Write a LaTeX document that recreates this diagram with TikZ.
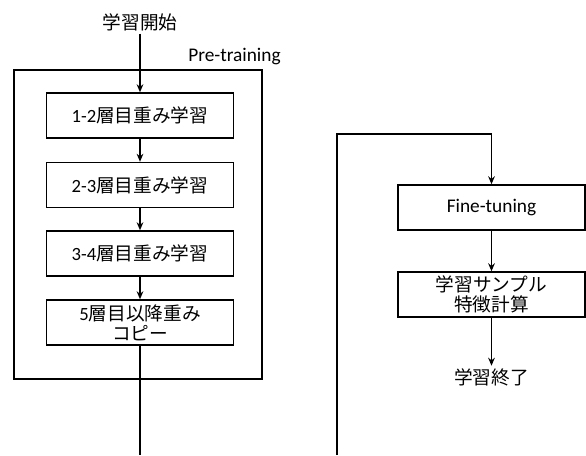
\documentclass[tikz,border=0pt]{standalone}
\usepackage{fontspec}
\setmainfont{Noto Sans CJK JP}
\newfontfamily\latf{Carlito}
\usetikzlibrary{arrows.meta}
\begin{document}
\begin{tikzpicture}[x=0.75pt,y=-0.75pt,
  every node/.style={font=\fontsize{14pt}{16pt}\selectfont},
  procbox/.style={draw=black,line width=1.1pt,minimum width=187*0.75pt,minimum height=45*0.75pt,inner sep=0pt,align=center},
  conn/.style={draw=black,line width=1.1pt},
  arr/.style={conn,-{Stealth[length=6pt,width=5pt]}}]
\useasboundingbox (0,0) rectangle (586,455);
\node[draw=black,line width=1.1pt,minimum width=248*0.75pt,minimum height=309*0.75pt,inner sep=0pt] (outer) at (138,224.5) {};
\node[anchor=west,inner sep=0pt] (pt) at (188,57) {\latf\fontsize{14.5pt}{16pt}\selectfont Pre-training};
\node[inner sep=2pt] (start) at (140,22) {学習開始};
\node[procbox] (b1) at (140,115.5) {{\latf 1-2}層目重み学習};
\node[procbox] (b2) at (140,185) {{\latf 2-3}層目重み学習};
\node[procbox] (b3) at (140,253.5) {{\latf 3-4}層目重み学習};
\node[procbox,font=\fontsize{14pt}{15pt}\selectfont] (b4) at (140,322.5) {{\latf 5}層目以降重み\\コピー};
\node[procbox] (ft) at (491.5,207.5) {\latf\fontsize{14.5pt}{16pt}\selectfont Fine-tuning};
\node[procbox,font=\fontsize{14pt}{15pt}\selectfont] (b6) at (491.5,294.5) {学習サンプル\\特徴計算};
\node[inner sep=0pt,minimum height=22*0.75pt] (end) at (491.5,377) {学習終了};
\coordinate (p1) at (140,455);
\coordinate (p2) at (337,455);
\coordinate (p3) at (337,134);
\coordinate (p4) at (491.5,134);
\draw[arr] (start) -- (b1);
\draw[arr] (b1) -- (b2);
\draw[arr] (b2) -- (b3);
\draw[arr] (b3) -- (b4);
\draw[conn] (b4) -- (p1);
\draw[arr] (p2) -- (p3) -- (p4) -- (ft);
\draw[arr] (ft) -- (b6);
\draw[arr] (b6) -- (end);
\end{tikzpicture}
\end{document}
